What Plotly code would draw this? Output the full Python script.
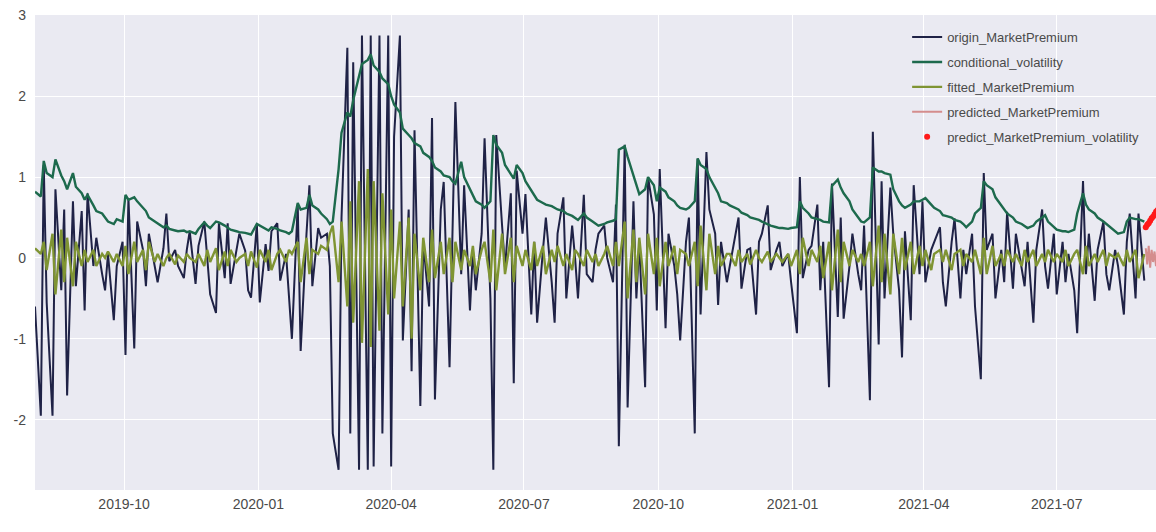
import pandas as pd
import plotly.graph_objects as go

# ---- data ----
start_date = "2019-08-01"

origin_MarketPremium = [
    -0.6, -1.95, 1.15, -0.55, -1.95, 0.85, -0.4, 0.6, -1.7, 0.7,
    -0.35, 0.58, -0.65, 0.8, -0.1, 0.25, -0.2, -0.4, 0.05, -0.77,
    -0.1, 0.2, -1.2, 0.74, -1.12, 0.45, 0.1, -0.35, 0.3, -0.1,
    -0.3, 0.12, 0.55, -0.04, 0.1, -0.1, -0.25, 0.1, 0.33, -0.32,
    0.15, 0.45, 0.0, -0.45, -0.68, 0.43, -0.25, 0.43, -0.32, 0.1,
    0.3, 0.09, -0.4, -0.49, 0.42, -0.55, 0.17, -0.16, 0.33, 0.43,
    -0.28, 0.05, -0.44, -1.0, 0.66, -1.15, 0.3, 0.9, -0.35, 0.37,
    0.25, 0.3, -0.1, -2.17, -2.62, 0.5, 2.6, -2.17, 2.42, -2.62,
    2.75, -2.62, 2.75, -2.58, 2.75, -2.17, 2.75, -2.58, 1.5, 2.75,
    -1.02, 0.6, -1.4, 1.58, -1.83, 0.2, -0.6, 1.73, -1.75, 0.6,
    0.94, -1.35, 0.3, 1.93, -0.2, 0.9, -0.65, 0.1, -0.4, 0.3,
    1.48, -0.5, -2.62, 1.52, 0.4, -0.12, 0.8, -1.55, 1.08, 0.3,
    0.79, -0.7, 0.2, -0.8, 0.1, 0.5, -0.3, -0.8, 0.3, 0.75,
    -0.5, 0.4, 0.0, -0.5, 0.78, -0.2, -0.3, 0.1, 0.3, 0.4,
    0.0, -0.3, 0.66, -2.33, 1.4, -1.85, 0.7, -0.5, 0.2, -1.6,
    1.0, 0.54, -0.65, 1.1, -0.87, 0.3, -0.1, -0.45, -1.02, 0.2,
    0.5, -2.17, 1.23, -0.7, 1.31, 0.6, 0.3, -0.58, 0.2, -0.3,
    -0.1, 0.3, 0.5, -0.38, 0.1, 0.12, -0.7, 0.2, 0.3, 0.65,
    -0.15, 0.1, 0.2, -0.1, 0.05, -0.3, -0.93, 1.0, -0.25, 0.1,
    0.15, 0.66, -0.4, 0.2, -1.6, 0.92, -0.73, 0.5, -0.75, -0.1,
    0.3, -0.2, -0.4, 0.4, -1.76, 1.56, -1.07, 0.95, -0.5, 0.87,
    0.3, -0.4, -1.23, 0.33, -0.77, 0.9, -0.2, 0.7, -0.3, 0.1,
    0.2, 0.38, -0.3, -0.6, 0.2, 0.49, -0.5, 0.1, -0.2, 0.3,
    -0.6, -1.5, 1.05, 0.1, 0.3, -0.5, 0.1, -0.3, 0.57, -0.38,
    0.3, -0.1, -0.35, 0.2, -0.8, 0.1, 0.6, -0.1, -0.38, 0.3,
    -0.45, 0.2, -0.3, 0.05, -0.4, -0.93, 0.95, -0.2, 0.3, -0.53,
    0.1, 0.45, -0.2, -0.4, 0.1, -0.1, -0.7, 0.2, 0.55, -0.5,
    0.55, -0.28,
]

conditional_volatility = [
    0.82, 0.76, 1.2, 1.05, 1.0, 1.22, 1.02, 0.95, 0.85, 1.05,
    0.88, 0.8, 0.72, 0.78, 0.65, 0.58, 0.55, 0.5, 0.45, 0.42,
    0.48, 0.45, 0.78, 0.72, 0.75, 0.7, 0.62, 0.58, 0.5, 0.45,
    0.42, 0.38, 0.4, 0.36, 0.34, 0.33, 0.34, 0.32, 0.33, 0.3,
    0.36, 0.44, 0.4, 0.37, 0.45, 0.44, 0.4, 0.38, 0.35, 0.33,
    0.32, 0.31, 0.3, 0.29, 0.42, 0.4, 0.36, 0.34, 0.38, 0.36,
    0.34, 0.32, 0.3, 0.33, 0.68, 0.6, 0.62, 0.78, 0.65, 0.6,
    0.55, 0.48, 0.42, 0.45, 1.1, 1.55, 1.8, 1.75, 1.95, 2.25,
    2.4, 2.45, 2.52, 2.38, 2.3, 2.22, 2.15, 2.0, 1.9, 1.8,
    1.6, 1.52, 1.48, 1.42, 1.38, 1.3, 1.25, 1.2, 1.12, 1.07,
    1.02, 1.0, 0.95, 0.92, 1.19, 1.0, 0.86, 0.78, 0.7, 0.66,
    0.62, 0.7, 1.52, 1.4, 1.3, 1.15, 1.03, 0.98, 1.15, 1.05,
    0.95, 0.84, 0.78, 0.72, 0.68, 0.66, 0.64, 0.62, 0.6, 0.58,
    0.55, 0.52, 0.5, 0.47, 0.55, 0.5, 0.45, 0.42, 0.4, 0.42,
    0.44, 0.46, 0.48, 1.34, 1.38, 1.25, 1.03, 0.9, 0.79, 0.85,
    1.0, 0.9, 0.7, 0.87, 0.82, 0.75, 0.7, 0.65, 0.62, 0.6,
    0.62, 0.7, 1.23, 1.15, 1.1, 1.0, 0.87, 0.8, 0.7, 0.68,
    0.65, 0.62, 0.6, 0.56, 0.53, 0.5, 0.48, 0.47, 0.45, 0.42,
    0.4, 0.38, 0.37, 0.37, 0.36, 0.37, 0.38, 0.7, 0.62, 0.55,
    0.5, 0.48, 0.47, 0.45, 0.44, 0.89, 0.97, 0.87, 0.8, 0.7,
    0.6, 0.5, 0.45, 0.44, 0.5, 1.12, 1.07, 1.07, 1.05, 1.03,
    0.85, 0.7, 0.65, 0.62, 0.66, 0.7, 0.7, 0.72, 0.74, 0.66,
    0.62, 0.58, 0.53, 0.52, 0.5, 0.47, 0.45, 0.42, 0.38, 0.45,
    0.55, 0.62, 0.95, 0.9, 0.85, 0.75, 0.65, 0.6, 0.55, 0.5,
    0.45, 0.42, 0.4, 0.37, 0.4, 0.45, 0.5, 0.53, 0.45, 0.38,
    0.35, 0.33, 0.33, 0.32, 0.35, 0.55, 0.8, 0.66, 0.6, 0.55,
    0.5, 0.45, 0.42, 0.38, 0.33, 0.3, 0.32, 0.45, 0.5, 0.48,
    0.48, 0.45,
]

fitted_MarketPremium = [
    0.12, 0.05, 0.2, -0.15, 0.3, -0.45, 0.35, -0.3, 0.25, -0.35,
    0.2, -0.1, 0.1, -0.05, 0.1, -0.1, 0.05, 0.0, 0.08, -0.05,
    0.05, -0.1, 0.15, -0.2, 0.2, -0.05, 0.1, -0.15, 0.2, -0.05,
    0.05, -0.1, 0.0, 0.05, -0.08, 0.03, -0.05, 0.05, 0.0, -0.05,
    0.05, -0.1, 0.1, -0.05, 0.12, -0.15, 0.08, -0.1, 0.1, -0.05,
    0.0, 0.05, -0.1, 0.08, -0.12, 0.1, -0.05, 0.1, -0.15, 0.05,
    0.1, -0.05, 0.1, 0.05, 0.2, -0.3, 0.25, -0.2, 0.1, 0.05,
    0.15, 0.1, 0.3, 0.4, -0.3, 0.45, -0.6, 0.7, -0.8, 0.95,
    -1.05, 1.1, -1.1, 0.95, -0.9, 0.8, -0.7, 0.6, -0.5, 0.45,
    -0.6, 0.5, -1.0, 0.3, -0.4, 0.25, -0.3, 0.35, -0.25, 0.2,
    -0.2, 0.25, -0.3, 0.2, -0.15, 0.1, -0.1, 0.15, -0.2, 0.1,
    0.2, -0.3, 0.35, -0.4, 0.3, -0.2, 0.25, -0.3, 0.15, -0.1,
    0.1, -0.15, 0.2, -0.1, 0.15, -0.2, 0.1, -0.05, 0.15, -0.1,
    0.05, -0.15, 0.1, 0.05, -0.1, 0.1, -0.05, 0.05, -0.1, 0.05,
    0.15, -0.1, 0.2, -0.1, 0.45, -0.5, 0.35, -0.3, 0.25, -0.45,
    0.3, -0.2, 0.25, -0.35, 0.2, -0.1, 0.15, -0.2, 0.1, 0.05,
    -0.1, 0.2, -0.35, 0.4, -0.4, 0.3, -0.2, 0.15, -0.1, 0.05,
    0.05, -0.1, 0.1, -0.05, 0.05, -0.08, 0.1, 0.0, -0.05, 0.08,
    -0.05, 0.05, 0.0, -0.05, 0.05, -0.1, 0.1, -0.2, 0.25, -0.1,
    0.1, -0.05, 0.15, -0.25, 0.2, -0.4, 0.35, -0.3, 0.2, -0.1,
    0.1, -0.05, 0.05, -0.1, 0.2, -0.35, 0.4, -0.3, 0.3, -0.45,
    0.3, -0.2, 0.25, -0.15, 0.2, -0.2, 0.15, -0.1, 0.1, -0.15,
    0.05, 0.1, -0.05, 0.1, -0.15, 0.05, 0.1, -0.1, 0.05, -0.05,
    0.1, -0.2, 0.25, -0.2, 0.15, -0.1, 0.05, -0.1, 0.1, -0.05,
    0.05, -0.1, 0.1, -0.05, 0.1, -0.1, 0.05, -0.05, 0.1, -0.05,
    0.05, -0.05, 0.1, -0.1, 0.05, 0.1, -0.2, 0.15, -0.1, 0.05,
    -0.05, 0.1, -0.1, 0.05, 0.0, 0.05, -0.1, 0.1, -0.05, 0.1,
    -0.25, 0.05,
]

forecast_start = "2021-08-31"
predicted_MarketPremium = [0.12, -0.08, 0.15, -0.12, 0.1, -0.05, 0.08,
                           -0.1, 0.05, 0.1, -0.06, 0.04, 0.0]
predict_MarketPremium_volatility = [0.38, 0.41, 0.43, 0.46, 0.49, 0.51, 0.54,
                                    0.57, 0.59, 0.62, 0.65, 0.67, 0.7]

tick_dates = ["2019-10-01", "2020-01-01", "2020-04-01", "2020-07-01",
              "2020-10-01", "2021-01-01", "2021-04-01", "2021-07-01"]
tick_labels = ["2019-10", "2020-01", "2020-04", "2020-07",
               "2020-10", "2021-01", "2021-04", "2021-07"]
y_ticks = [-2, -1, 0, 1, 2, 3]
y_tick_labels = ["-2", "-1", "0", "1", "2", "3"]

# ---- build ----
dates = pd.bdate_range(start=start_date, periods=len(origin_MarketPremium), freq="2B")
fdates = pd.date_range(start=forecast_start, periods=len(predicted_MarketPremium), freq="D")

fig = go.Figure()
fig.add_trace(go.Scatter(x=dates, y=origin_MarketPremium, mode="lines",
                         name="origin_MarketPremium", legendgroup="a",
                         line=dict(color="#1f2246", width=2.0)))
fig.add_trace(go.Scatter(x=dates, y=conditional_volatility, mode="lines",
                         name="conditional_volatility", legendgroup="b",
                         line=dict(color="#1d6a4d", width=2.4)))
fig.add_trace(go.Scatter(x=dates, y=fitted_MarketPremium, mode="lines",
                         name="fitted_MarketPremium", legendgroup="c",
                         line=dict(color="#7f9433", width=2.4)))
fig.add_trace(go.Scatter(x=fdates, y=predicted_MarketPremium, mode="lines",
                         name="predicted_MarketPremium", legendgroup="d",
                         line=dict(color="#d48d8d", width=2)))
fig.add_trace(go.Scatter(x=fdates, y=predict_MarketPremium_volatility, mode="markers",
                         name="predict_MarketPremium_volatility", legendgroup="e",
                         marker=dict(color="#ff1a1a", size=6)))

font_family = "Liberation Sans, Arial, sans-serif"

fig.update_layout(
    width=1156, height=532,
    margin=dict(l=35, r=0, t=15, b=42, autoexpand=False),
    paper_bgcolor="white",
    plot_bgcolor="#eaeaf2",
    font=dict(family=font_family, size=14, color="#4a4a4a"),
    showlegend=True,
    legend=dict(x=0.778, y=0.985, xanchor="left", yanchor="top",
                bgcolor="rgba(0,0,0,0)", borderwidth=0,
                font=dict(size=13, color="#4a4a4a"),
                tracegroupgap=5, itemwidth=30),
)
fig.update_xaxes(
    range=["2019-08-01", "2021-09-07"],
    tickvals=tick_dates, ticktext=tick_labels,
    showgrid=True, gridcolor="white", gridwidth=1.3,
    zeroline=False, showline=False, ticks="", ticklabelstandoff=4,
    automargin=False, ticklabeloverflow="allow",
)
fig.update_yaxes(
    range=[-2.87, 3.005],
    tickvals=y_ticks, ticktext=y_tick_labels,
    showgrid=True, gridcolor="white", gridwidth=1.3,
    zeroline=False, showline=False, ticks="", ticklabelstandoff=8,
    automargin=False, ticklabeloverflow="allow",
)

# remove the default 8px page margin so the figure sits at the window's corner
fig.write_html(
    "out.html",
    config={"displayModeBar": False},
    post_script="document.body.style.margin='0';document.body.style.overflow='hidden';",
)
